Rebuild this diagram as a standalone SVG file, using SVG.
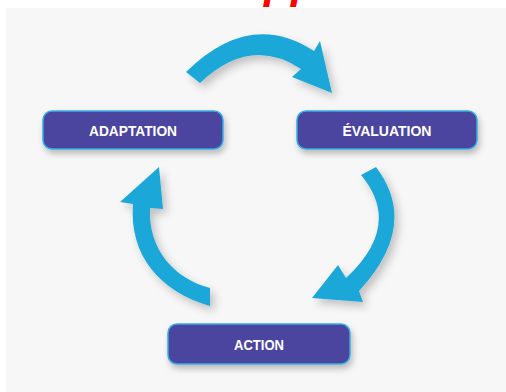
<svg xmlns="http://www.w3.org/2000/svg" width="506" height="392" viewBox="0 0 506 392">
<defs>
<filter id="sh" x="-20%" y="-20%" width="150%" height="160%">
<feDropShadow dx="2" dy="4" stdDeviation="3" flood-color="#000" flood-opacity="0.25"/>
</filter>
<filter id="ash" x="-30%" y="-30%" width="170%" height="170%">
<feDropShadow dx="4" dy="5" stdDeviation="4" flood-color="#000" flood-opacity="0.22"/>
</filter>
<style>
.box{fill:#4c45a0;stroke:#35aee2;stroke-width:1.5;filter:url(#sh)}
.lbl{font-family:"Liberation Sans",Arial,sans-serif;font-weight:bold;font-size:15px;fill:#ffffff;text-anchor:middle}
.arr{fill:#1ba7d9;filter:url(#ash)}
</style>
</defs>
<rect x="0" y="0" width="506" height="392" fill="#ffffff"/>
<rect x="6" y="8" width="500" height="384" fill="#f7f7f7"/>
<text x="264" y="-2" font-family="'Liberation Sans',Arial,sans-serif" font-weight="bold" font-style="italic" font-size="44" fill="#ff0000">pp</text>
<g id="connectors">
<path class="arr" d="M186,72 Q250,9 314,51 L320,41 L332,93 L292,77 L301,69 Q250,35 200,83 Z"/>
<path class="arr" d="M376,167 Q420,225 359,291 L363,302 L312,298 L338,265 L346,278 Q403,225 361,175 Z"/>
<path class="arr" d="M210,306 C159,291 129,255 133,204 L120,202 L159,167 L163,209 L150,208 C148,250 175,279 210,288 Z"/>
</g>
<g id="adaptation">
<rect class="box" x="43" y="111" width="180" height="38" rx="9"/>
<text class="lbl" x="133" y="135.5" textLength="88" lengthAdjust="spacingAndGlyphs">ADAPTATION</text>
</g>
<g id="evaluation">
<rect class="box" x="297" y="111" width="180" height="38" rx="9"/>
<text class="lbl" x="387" y="135.5" textLength="89" lengthAdjust="spacingAndGlyphs">ÉVALUATION</text>
</g>
<g id="action">
<rect class="box" x="168" y="324" width="182" height="40" rx="9"/>
<text class="lbl" x="259" y="349.5" textLength="50" lengthAdjust="spacingAndGlyphs">ACTION</text>
</g>
</svg>
